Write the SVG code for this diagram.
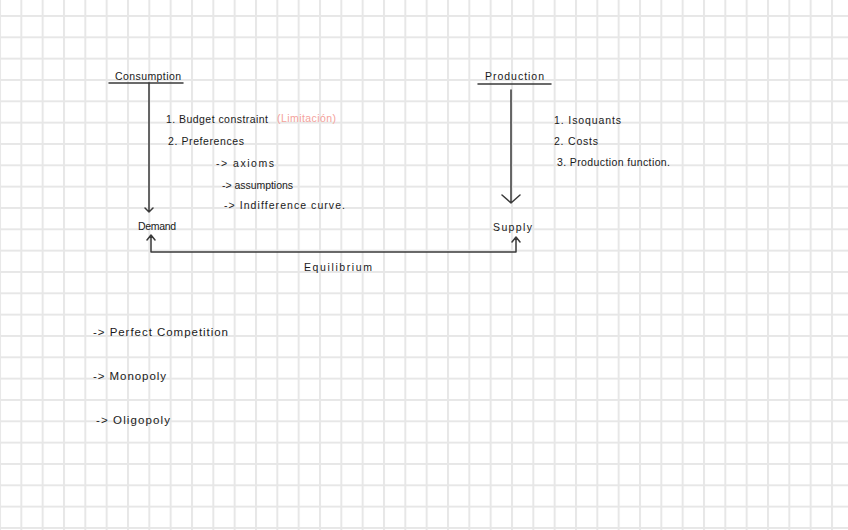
<svg xmlns="http://www.w3.org/2000/svg" width="848" height="530" viewBox="0 0 848 530">
  <defs>
    <pattern id="grid" x="-1" y="15" width="21.333" height="21.333" patternUnits="userSpaceOnUse">
      <path d="M0 1 H21.333 M1 0 V21.333" fill="none" stroke="#e7e7e7" stroke-width="2"/>
    </pattern>
    <style>
      .t { font-family: "Liberation Sans", Arial, sans-serif; font-size: 10.5px; fill: #1a1a1a; }
      .big { font-size: 11.5px; }
      .pink { fill: #f4a29b; }
      .ln { fill: none; stroke: #3a3a3a; stroke-width: 1.5; stroke-linecap: round; stroke-linejoin: round; }
    </style>
  </defs>
  <rect width="848" height="530" fill="#ffffff"/>
  <rect width="848" height="530" fill="url(#grid)"/>

  <g id="connectors">
    <path class="ln" d="M109 83 H183"/>
    <path class="ln" d="M149 83 V212 M145 208 L149 212 L153 208"/>
    <path class="ln" d="M478 84 H551"/>
    <path class="ln" d="M511 90 V203 M502 195 L511 203 L520 195"/>
    <path class="ln" d="M151 236 V252 H516 V238 M147 240 L151 235 L155 240 M512 242 L516 237 L520 242"/>
  </g>

  <g id="consumption">
    <text class="t" x="115" y="80" textLength="66" lengthAdjust="spacing">Consumption</text>
  </g>
  <g id="consumption-notes">
    <text class="t" x="166" y="123" textLength="102" lengthAdjust="spacing">1. Budget constraint</text>
    <text class="t pink" x="277" y="122" textLength="59" lengthAdjust="spacing">(Limitación)</text>
    <text class="t" x="168" y="145" textLength="76" lengthAdjust="spacing">2. Preferences</text>
    <text class="t" x="216" y="167" textLength="58" lengthAdjust="spacing">-&gt; axioms</text>
    <text class="t" x="222" y="189" textLength="71" lengthAdjust="spacing">-&gt; assumptions</text>
    <text class="t" x="224" y="209" textLength="121" lengthAdjust="spacing">-&gt; Indifference curve.</text>
  </g>
  <g id="production">
    <text class="t" x="485" y="80" textLength="59" lengthAdjust="spacing">Production</text>
  </g>
  <g id="production-notes">
    <text class="t" x="554" y="124" textLength="67" lengthAdjust="spacing">1. Isoquants</text>
    <text class="t" x="554" y="145" textLength="44" lengthAdjust="spacing">2. Costs</text>
    <text class="t" x="557" y="166" textLength="113" lengthAdjust="spacing">3. Production function.</text>
  </g>
  <g id="demand">
    <text class="t" x="138" y="230" textLength="38" lengthAdjust="spacing">Demand</text>
  </g>
  <g id="supply">
    <text class="t" x="493" y="231" textLength="39" lengthAdjust="spacing">Supply</text>
  </g>
  <g id="equilibrium">
    <text class="t" x="304" y="271" textLength="68" lengthAdjust="spacing">Equilibrium</text>
  </g>
  <g id="market-types">
    <text class="t big" x="93" y="336" textLength="135" lengthAdjust="spacing">-&gt; Perfect Competition</text>
    <text class="t big" x="93" y="380" textLength="73" lengthAdjust="spacing">-&gt; Monopoly</text>
    <text class="t big" x="96" y="424" textLength="74" lengthAdjust="spacing">-&gt; Oligopoly</text>
  </g>
</svg>
